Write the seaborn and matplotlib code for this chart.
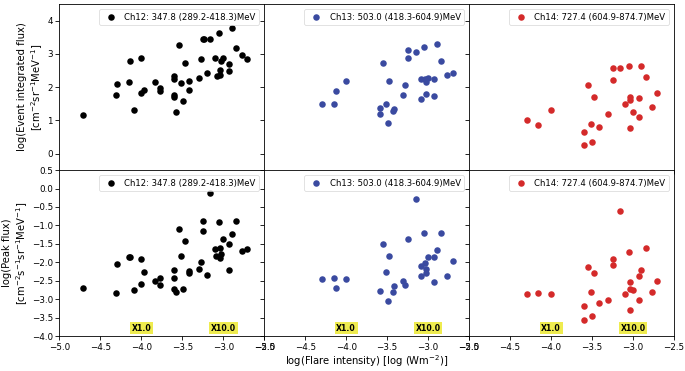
import matplotlib
matplotlib.use("Agg")
import matplotlib.pyplot as plt
import matplotlib.ticker as mticker
import seaborn as sns
import numpy as np

# ---- data ----
labels = ["Ch12: 347.8 (289.2-418.3)MeV",
          "Ch13: 503.0 (418.3-604.9)MeV",
          "Ch14: 727.4 (604.9-874.7)MeV"]
colors = ["black", "#3a4aa0", "#d42a2a"]

ch12_x_int = [-4.71, -4.305, -4.296, -4.154, -4.134, -4.093, -4.004, -4.004, -3.963, -3.829,
              -3.776, -3.772, -3.601, -3.597, -3.605, -3.60, -3.573, -3.544, -3.515, -3.495,
              -3.471, -3.422, -3.415, -3.300, -3.276, -3.248, -3.240, -3.195, -3.159, -3.098,
              -3.077, -3.052, -3.040, -3.037, -3.032, -3.007, -2.931, -2.927, -2.894, -2.841,
              -2.776, -2.707]
ch12_event = [1.17, 1.77, 2.10, 2.16, 2.79, 1.31, 2.89, 1.83, 1.90, 2.16,
              1.98, 1.88, 2.33, 2.23, 1.76, 1.70, 1.25, 3.26, 2.13, 1.59,
              2.74, 2.17, 1.91, 2.26, 2.85, 3.45, 3.45, 2.42, 3.45, 2.89,
              2.32, 3.63, 2.35, 2.52, 2.80, 2.87, 2.71, 2.47, 3.77, 3.18,
              2.98, 2.85]
ch12_x_peak = [-4.707, -4.305, -4.296, -4.154, -4.134, -4.093, -4.004, -4.004, -3.963, -3.829,
               -3.776, -3.772, -3.601, -3.597, -3.605, -3.573, -3.544, -3.515, -3.495, -3.471,
               -3.422, -3.415, -3.300, -3.276, -3.248, -3.248, -3.195, -3.159, -3.098, -3.089,
               -3.052, -3.037, -3.032, -3.037, -3.007, -2.931, -2.927, -2.894, -2.841, -2.776,
               -2.707]
ch12_peak = [-2.69, -2.82, -2.05, -1.86, -1.85, -2.74, -1.91, -2.58, -2.25, -2.51,
             -2.42, -2.61, -2.21, -2.43, -2.72, -2.81, -1.10, -1.83, -2.71, -1.42,
             -2.24, -2.29, -2.19, -2.00, -0.89, -1.15, -2.34, -0.12, -1.63, -1.83,
             -0.92, -1.62, -1.78, -1.89, -1.38, -1.50, -2.21, -1.23, -0.87, -1.69,
             -1.64]

ch13_x_int = [-4.296, -4.154, -4.129, -4.004, -3.593, -3.593, -3.549, -3.516, -3.495, -3.476,
              -3.427, -3.415, -3.309, -3.280, -3.244, -3.244, -3.154, -3.093, -3.085, -3.056,
              -3.040, -3.032, -3.032, -3.004, -2.927, -2.927, -2.894, -2.845, -2.776, -2.702]
ch13_event = [1.48, 1.49, 1.89, 2.18, 1.38, 1.20, 2.72, 1.49, 0.93, 2.19,
              1.27, 1.33, 1.77, 2.05, 3.11, 2.89, 3.05, 2.23, 1.64, 3.20,
              2.24, 2.14, 1.80, 2.28, 2.23, 1.74, 3.31, 2.79, 2.37, 2.41]
ch13_x_peak = [-4.296, -4.154, -4.129, -4.004, -3.593, -3.549, -3.516, -3.495, -3.476, -3.427,
               -3.415, -3.309, -3.280, -3.244, -3.154, -3.093, -3.089, -3.056, -3.040, -3.032,
               -3.032, -3.004, -2.927, -2.927, -2.894, -2.845, -2.776, -2.702]
ch13_peak = [-2.45, -2.43, -2.70, -2.44, -2.77, -1.51, -2.25, -3.06, -1.83, -2.80,
             -2.63, -2.51, -2.62, -1.38, -0.27, -2.10, -2.37, -1.21, -2.02, -2.17,
             -2.30, -1.86, -1.86, -2.53, -1.67, -1.21, -2.36, -1.97]

ch14_x = [-4.293, -4.154, -4.004, -3.593, -3.593, -3.544, -3.516, -3.495, -3.471, -3.410,
          -3.305, -3.244, -3.244, -3.154, -3.098, -3.052, -3.036, -3.036, -3.036, -3.004,
          -2.927, -2.927, -2.898, -2.845, -2.772, -2.702]
ch14_event = [1.02, 0.86, 1.31, 0.64, 0.25, 2.05, 0.89, 0.34, 1.70, 0.80,
              1.20, 2.57, 2.21, 2.57, 1.49, 2.64, 1.69, 1.60, 0.76, 1.25,
              1.67, 1.11, 2.64, 2.31, 1.39, 1.81]
ch14_peak = [-2.85, -2.83, -2.85, -3.18, -3.57, -2.12, -2.80, -3.46, -2.29, -3.11,
             -3.01, -1.90, -2.06, -0.61, -2.85, -1.73, -2.54, -2.72, -3.30, -2.76,
             -2.37, -3.03, -2.21, -1.61, -2.80, -2.50]

flare_marks = [-4.0, -3.0]
flare_labels = ["X1.0", "X10.0"]

top_data = [(ch12_x_int, ch12_event), (ch13_x_int, ch13_event), (ch14_x, ch14_event)]
bot_data = [(ch12_x_peak, ch12_peak), (ch13_x_peak, ch13_peak), (ch14_x, ch14_peak)]

# ---- figure ----
plt.rcParams.update({
    "font.family": ["DejaVu Sans"],
    "font.size": 7.2,
    "axes.linewidth": 0.6,
    "xtick.major.width": 0.6,
    "ytick.major.width": 0.6,
    "xtick.major.size": 2.6,
    "ytick.major.size": 2.6,
    "xtick.major.pad": 2.0,
    "ytick.major.pad": 2.0,
    "xtick.labelsize": 6.3,
    "ytick.labelsize": 6.3,
    "legend.fontsize": 6.1,
    "axes.unicode_minus": True,
})

fig, axes = plt.subplots(2, 3, figsize=(6.85, 3.71), dpi=100, sharey="row")
fig.subplots_adjust(left=0.0866, right=0.984, top=0.989, bottom=0.094, wspace=0, hspace=0)

fmt1 = mticker.FuncFormatter(lambda v, p: ("%.1f" % v).replace("-", "\u2212"))

for j in range(3):
    for i, data in enumerate([top_data, bot_data]):
        ax = axes[i, j]
        x, y = data[j]
        sns.scatterplot(x=x, y=y, ax=ax, color=colors[j], s=22, linewidth=0,
                        label=labels[j])
        ax.set_xlim(-5.0, -2.5)
        ax.set_xticks(np.arange(-5.0, -2.49, 0.5))
        ax.xaxis.set_major_formatter(fmt1)
        leg = ax.legend(loc="upper right", handletextpad=0.6, borderpad=0.4,
                        fancybox=True, framealpha=0.8, markerscale=1.0,
                        borderaxespad=0.6)
        leg.get_frame().set_linewidth(0.5)
    axes[0, j].tick_params(labelbottom=False)

axes[0, 0].set_ylim(-0.5, 4.5)
axes[0, 0].set_yticks([0, 1, 2, 3, 4])
axes[1, 0].set_ylim(-4.0, 0.5)
axes[1, 0].set_yticks(np.arange(-4.0, 0.51, 0.5))
axes[1, 0].yaxis.set_major_formatter(fmt1)

axes[0, 0].set_ylabel("log(Event integrated flux)\n[cm$^{-2}$sr$^{-1}$MeV$^{-1}$]",
                      labelpad=2)
axes[1, 0].set_ylabel("log(Peak flux)\n[cm$^{-2}$s$^{-1}$sr$^{-1}$MeV$^{-1}$]",
                      labelpad=1)
axes[1, 1].set_xlabel("log(Flare intensity) [log (Wm$^{-2}$)]", labelpad=1.5)

for j in range(3):
    ax = axes[1, j]
    for xm, lab in zip(flare_marks, flare_labels):
        ax.text(xm, -3.78, lab, ha="center", va="center", fontsize=5.6,
                fontweight="bold",
                bbox=dict(boxstyle="square,pad=0.22", facecolor="#eeea3c",
                          edgecolor="none", alpha=0.9))

fig.savefig("out.png", dpi=100)
